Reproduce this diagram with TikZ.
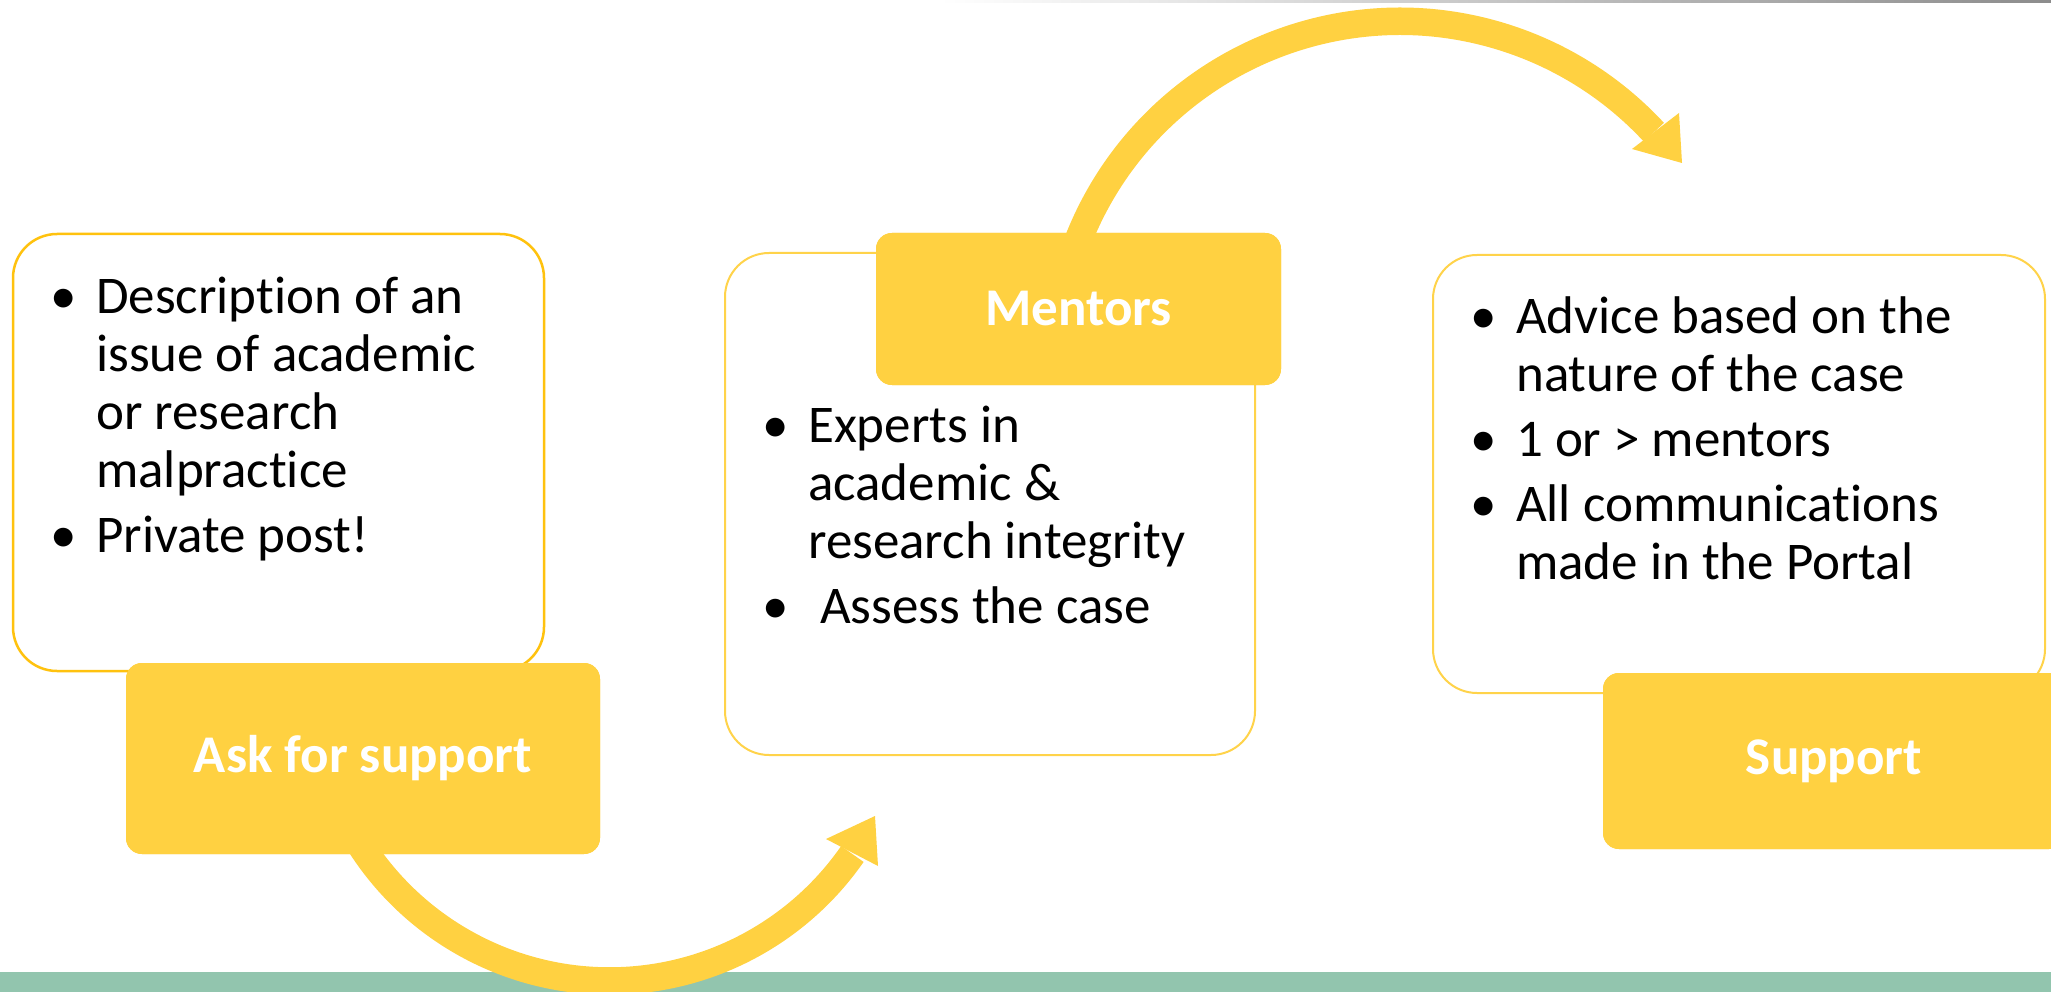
\documentclass[tikz,border=0pt]{standalone}
\usepackage{fontspec}
\setmainfont{Carlito}[Ligatures=CommonOff]
\definecolor{yfill}{HTML}{FFD141}
\definecolor{lineA}{HTML}{FFC20E}
\definecolor{lineB}{HTML}{FFD34A}
\definecolor{band}{HTML}{92C5AE}
\begin{document}
\begin{tikzpicture}[x=1pt,y=-1pt,
  outl/.style={draw=lineB, line width=2pt, rounded corners=44pt, fill=white, inner sep=0pt},
  lbl/.style={fill=yfill, rounded corners=16pt, text=white, inner sep=0pt,
    font=\fontsize{53}{58}\selectfont\bfseries},
  shaft/.style={draw=yfill, line width=27.5pt},
  head/.style={fill=yfill},
  body/.style={anchor=base west, inner sep=0pt, font=\fontsize{53}{58}\selectfont}
]
\useasboundingbox (0,0) rectangle (2051,992);
\clip (0,0) rectangle (2051,992);
\fill[white] (0,0) rectangle (2051,992);
% top grey rule
\shade[left color=white, right color=black!45] (940,0) rectangle (2051,3);
% green band
\fill[band] (0,972) rectangle (2051,992);

% outline boxes
\node[outl, draw=lineA, line width=2.5pt, minimum width=531pt, minimum height=437pt] (b1) at (278.5,452.5) {};
\node[outl, minimum width=530pt, minimum height=502pt] (b2) at (990,504) {};
\node[outl, minimum width=612pt, minimum height=438pt] (b3) at (1739,474) {};

% label box positions
\node[lbl, minimum width=474pt, minimum height=191pt] (ask) at (363,758.5) {};
\node[lbl, minimum width=405pt, minimum height=152pt] (mentors) at (1078.5,309) {};
\node[lbl, minimum width=462pt, minimum height=176pt] (support) at (1834,761) {};
\coordinate (h1) at (875,816);
\coordinate (h2) at (1682,163);

% curved arrows (circular arcs)
\draw[shaft] ([xshift=-1.6pt,yshift=7.9pt]ask.south) arc[start angle=147, end angle=34.8, radius=295.8];
\fill[head] (826,839) -- (h1) -- (878,866) -- cycle;

\draw[shaft] ([xshift=-3.6pt,yshift=-16.2pt]mentors.north) arc[start angle=-160, end angle=-42.8, radius=346];
\fill[head] (1632,149) -- (1679,113) -- (h2) -- cycle;

% label boxes on top
\node[lbl, minimum width=474pt, minimum height=191pt] at (ask) {Ask for support};
\node[lbl, minimum width=405pt, minimum height=152pt] at (mentors) {Mentors};
\node[lbl, minimum width=462pt, minimum height=176pt] at (support) {Support};

% body texts
\node[body] (t1) at (50,314) {\begin{tabular}[t]{@{}l@{}l@{}}
\makebox[46pt][l]{\textbullet} & Description of an\\
 & issue of academic\\
 & or research\\
 & malpractice\\[7pt]
\textbullet & Private post!
\end{tabular}};
\node[body] (t2) at (762,442) {\begin{tabular}[t]{@{}l@{}l@{}}
\makebox[46pt][l]{\textbullet} & Experts in\\
 & academic \&\\
 & research integrity\\[7pt]
\textbullet & \ Assess the case
\end{tabular}};
\node[body] (t3) at (1470,334) {\begin{tabular}[t]{@{}l@{}l@{}}
\makebox[46pt][l]{\textbullet} & Advice based on the\\
 & nature of the case\\[7pt]
\textbullet & 1 or > mentors\\[7pt]
\textbullet & All communications\\
 & made in the Portal
\end{tabular}};
\end{tikzpicture}
\end{document}
